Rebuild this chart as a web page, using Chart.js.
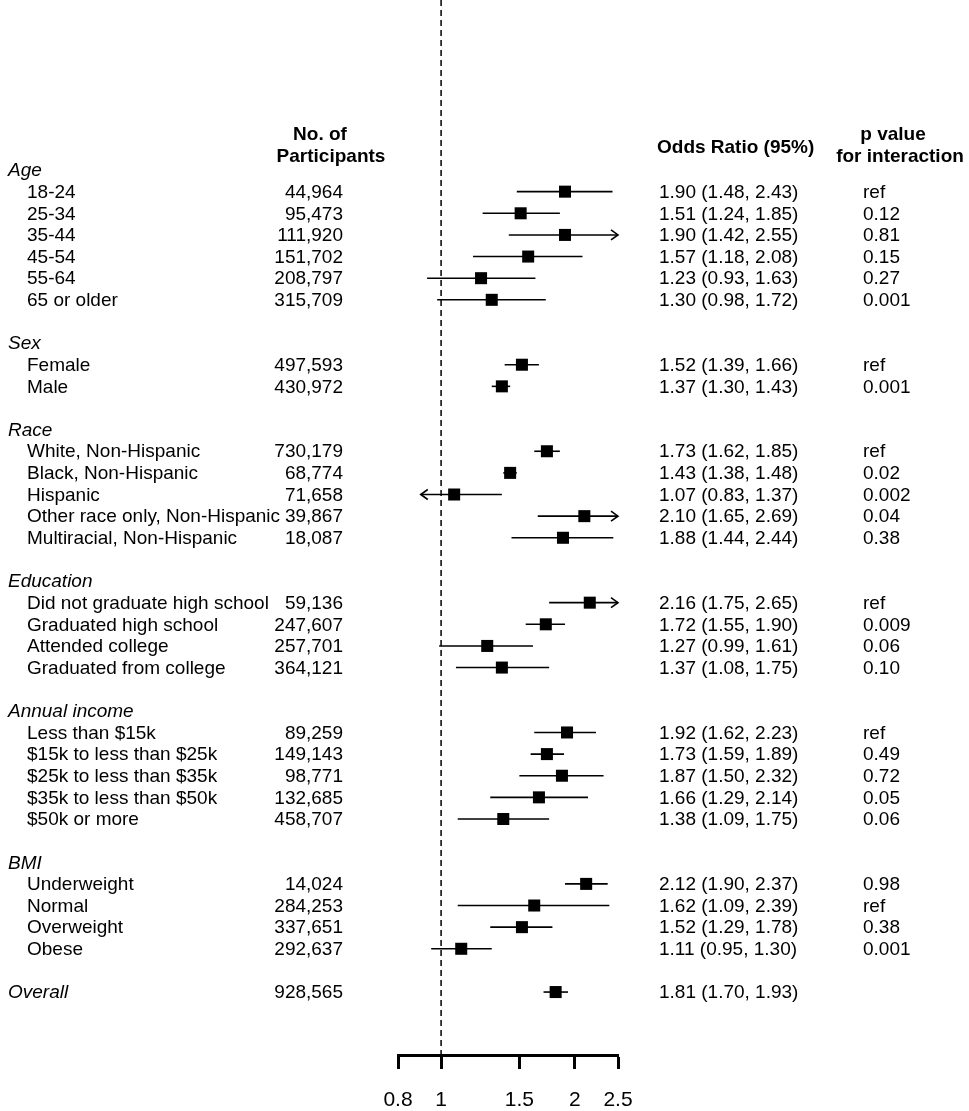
<!DOCTYPE html>
<html>
<head>
<meta charset="utf-8">
<script src="https://cdn.jsdelivr.net/npm/chart.js@4.4.1/dist/chart.umd.min.js"></script>
<style>
  body { margin: 0; background: #fff; }
  #wrap { width: 969px; height: 1111px; }
</style>
</head>
<body>
<div id="wrap"><canvas id="forest" width="969" height="1111"></canvas></div>
<script>
// rows top to bottom, '' = empty spacer row
const rowLabels = ['Age', '18-24', '25-34', '35-44', '45-54', '55-64', '65 or older', '',
  'Sex', 'Female', 'Male', '',
  'Race', 'White, Non-Hispanic', 'Black, Non-Hispanic', 'Hispanic', 'Other race only, Non-Hispanic', 'Multiracial, Non-Hispanic', '',
  'Education', 'Did not graduate high school', 'Graduated high school', 'Attended college', 'Graduated from college', '',
  'Annual income', 'Less than $15k', '$15k to less than $25k', '$25k to less than $35k', '$35k to less than $50k', '$50k or more', '',
  'BMI', 'Underweight', 'Normal', 'Overweight', 'Obese', '',
  'Overall'];
const groups = ['Age', 'Sex', 'Race', 'Education', 'Annual income', 'BMI', 'Overall'];

const participants = [null, 44964, 95473, 111920, 151702, 208797, 315709, null,
  null, 497593, 430972, null,
  null, 730179, 68774, 71658, 39867, 18087, null,
  null, 59136, 247607, 257701, 364121, null,
  null, 89259, 149143, 98771, 132685, 458707, null,
  null, 14024, 284253, 337651, 292637, null,
  928565];

const oddsRatio = [null, 1.90, 1.51, 1.90, 1.57, 1.23, 1.30, null,
  null, 1.52, 1.37, null,
  null, 1.73, 1.43, 1.07, 2.10, 1.88, null,
  null, 2.16, 1.72, 1.27, 1.37, null,
  null, 1.92, 1.73, 1.87, 1.66, 1.38, null,
  null, 2.12, 1.62, 1.52, 1.11, null,
  1.81];

const ciLow = [null, 1.48, 1.24, 1.42, 1.18, 0.93, 0.98, null,
  null, 1.39, 1.30, null,
  null, 1.62, 1.38, 0.83, 1.65, 1.44, null,
  null, 1.75, 1.55, 0.99, 1.08, null,
  null, 1.62, 1.59, 1.50, 1.29, 1.09, null,
  null, 1.90, 1.09, 1.29, 0.95, null,
  1.70];

const ciHigh = [null, 2.43, 1.85, 2.55, 2.08, 1.63, 1.72, null,
  null, 1.66, 1.43, null,
  null, 1.85, 1.48, 1.37, 2.69, 2.44, null,
  null, 2.65, 1.90, 1.61, 1.75, null,
  null, 2.23, 1.89, 2.32, 2.14, 1.75, null,
  null, 2.37, 2.39, 1.78, 1.30, null,
  1.93];

const pValues = ['', 'ref', '0.12', '0.81', '0.15', '0.27', '0.001', '',
  '', 'ref', '0.001', '',
  '', 'ref', '0.02', '0.002', '0.04', '0.38', '',
  '', 'ref', '0.009', '0.06', '0.10', '',
  '', 'ref', '0.49', '0.72', '0.05', '0.06', '',
  '', '0.98', 'ref', '0.38', '0.001', '',
  ''];

const tickVals = [0.8, 1, 1.5, 2, 2.5];
const clipLo = 0.9, clipHi = 2.5;

const FONT = '"Liberation Sans", Arial, sans-serif';

const points = [];
oddsRatio.forEach((v, i) => { if (v != null) points.push({ x: v, y: i }); });

// dashed reference line, CI whiskers with arrows, and the text columns
const forestPlugin = {
  id: 'forest',
  beforeDatasetsDraw(chart) {
    const ctx = chart.ctx, xs = chart.scales.x, ys = chart.scales.y;
    const area = chart.chartArea;
    ctx.save();
    // reference line at 1
    const x1 = xs.getPixelForValue(1);
    ctx.strokeStyle = '#000';
    ctx.lineWidth = 1.5;
    ctx.setLineDash([6, 4]);
    ctx.beginPath();
    ctx.moveTo(x1, area.top);
    ctx.lineTo(x1, area.bottom);
    ctx.stroke();
    ctx.setLineDash([]);

    // confidence intervals
    ctx.lineWidth = 1.6;
    for (let i = 0; i < rowLabels.length; i++) {
      if (oddsRatio[i] == null) continue;
      const y = ys.getPixelForValue(i);
      const lo = Math.max(ciLow[i], clipLo), hi = Math.min(ciHigh[i], clipHi);
      const xl = xs.getPixelForValue(lo), xh = xs.getPixelForValue(hi);
      ctx.beginPath();
      ctx.moveTo(xl, y);
      ctx.lineTo(xh, y);
      ctx.stroke();
      if (ciHigh[i] > clipHi) {
        ctx.beginPath();
        ctx.moveTo(xh - 7, y - 5);
        ctx.lineTo(xh, y);
        ctx.lineTo(xh - 7, y + 5);
        ctx.stroke();
      }
      if (ciLow[i] < clipLo) {
        ctx.beginPath();
        ctx.moveTo(xl + 7, y - 5);
        ctx.lineTo(xl, y);
        ctx.lineTo(xl + 7, y + 5);
        ctx.stroke();
      }
    }
    ctx.restore();
  },
  afterDraw(chart) {
    const ctx = chart.ctx, ys = chart.scales.y;
    ctx.save();
    ctx.fillStyle = '#000';
    ctx.textBaseline = 'middle';

    // column headers
    ctx.font = 'bold 19px ' + FONT;
    ctx.textAlign = 'center';
    ctx.fillText('No. of', 320, ys.getPixelForValue(-1.62));
    ctx.fillText('Participants', 331, ys.getPixelForValue(-0.6));
    ctx.fillText('p value', 893, ys.getPixelForValue(-1.62));
    ctx.fillText('for interaction', 900, ys.getPixelForValue(-0.6));
    ctx.textAlign = 'left';
    ctx.fillText('Odds Ratio (95%)', 657, ys.getPixelForValue(-1.05));

    for (let i = 0; i < rowLabels.length; i++) {
      const y = ys.getPixelForValue(i) + 1;
      const isGroup = groups.includes(rowLabels[i]);
      ctx.font = (isGroup ? 'italic ' : '') + '19px ' + FONT;
      ctx.textAlign = 'left';
      ctx.fillText(rowLabels[i], isGroup ? 8 : 27, y);
      ctx.font = '19px ' + FONT;
      if (participants[i] != null) {
        ctx.textAlign = 'right';
        ctx.fillText(participants[i].toLocaleString('en-US'), 343, y);
      }
      ctx.textAlign = 'left';
      if (oddsRatio[i] != null) {
        const txt = oddsRatio[i].toFixed(2) + ' (' + ciLow[i].toFixed(2) + ', ' + ciHigh[i].toFixed(2) + ')';
        ctx.fillText(txt, 659, y);
      }
      if (pValues[i]) ctx.fillText(pValues[i], 863, y);
    }
    ctx.restore();
  }
};

new Chart(document.getElementById('forest'), {
  type: 'scatter',
  data: {
    datasets: [{
      data: points,
      pointStyle: 'rect',
      pointRadius: 8.5,
      pointHoverRadius: 8.5,
      backgroundColor: '#000',
      borderWidth: 0
    }]
  },
  options: {
    responsive: false,
    devicePixelRatio: 1,
    animation: false,
    layout: { autoPadding: false, padding: { left: 398, right: 351, top: 0, bottom: 0 } },
    plugins: { legend: { display: false }, tooltip: { enabled: false } },
    scales: {
      x: {
        type: 'logarithmic',
        position: 'bottom',
        min: 0.8,
        max: 2.5,
        afterBuildTicks(scale) {
          scale.ticks = tickVals.map(v => ({ value: v }));
        },
        afterFit(scale) { scale.height = 56; },
        grid: { drawOnChartArea: false, drawTicks: true, tickLength: 14, tickWidth: 3, color: '#000' },
        border: { display: true, width: 3, color: '#000' },
        ticks: {
          autoSkip: false,
          maxRotation: 0,
          padding: 19,
          color: '#000',
          font: { family: FONT, size: 21 },
          callback: v => String(v)
        }
      },
      y: {
        type: 'linear',
        reverse: true,
        min: -7.86,
        max: 40.91,
        display: false
      }
    }
  },
  plugins: [forestPlugin]
});
</script>
</body>
</html>
